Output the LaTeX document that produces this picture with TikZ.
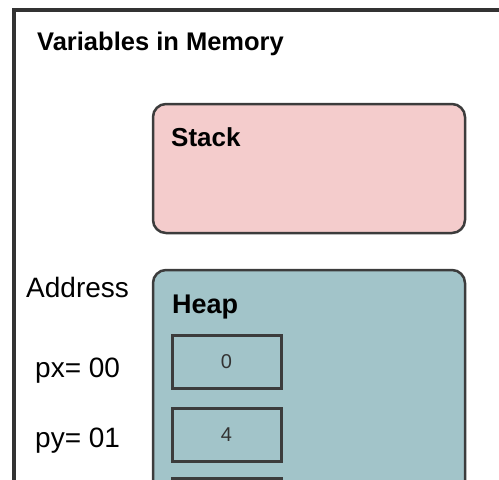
\documentclass[tikz,border=0pt]{standalone}
\usepackage{fontspec}
\setmainfont{Liberation Sans}
\definecolor{stackfill}{HTML}{F4CCCC}
\definecolor{heapfill}{HTML}{A2C4C9}
\definecolor{edge}{HTML}{3C3C3C}
\definecolor{framec}{HTML}{333333}
\tikzset{
  region/.style={draw=edge, line width=2.5pt, rounded corners=13pt, minimum width=312pt, inner sep=0pt},
  cell/.style={draw=edge, line width=3pt, minimum width=109pt, minimum height=53pt, inner sep=0pt, font=\fontsize{20}{24}\selectfont, text=black!80},
  lbl/.style={anchor=base west, inner sep=0pt, text=black},
}
\begin{document}
\begin{tikzpicture}[x=1pt,y=-1pt]
\useasboundingbox (0,0) rectangle (499,480);
\clip (0,0) rectangle (499,480);
% frame
\coordinate (fbl) at (14,520);
\coordinate (ftl) at (14,10);
\coordinate (ftr) at (540,10);
\draw[framec, line width=4pt] (fbl) -- (ftl) -- (ftr);
% title
\node[lbl, font=\bfseries\fontsize{25.5}{30}\selectfont] (title) at (37,50) {Variables in Memory};
% stack
\node[region, fill=stackfill, minimum height=129pt] (stack) at (309,168.5) {};
\node[lbl, font=\bfseries\fontsize{26}{30}\selectfont] (stacklbl) at (171,146) {Stack};
% heap
\node[region, fill=heapfill, minimum height=250pt] (heap) at (309,395) {};
\node[lbl, font=\bfseries\fontsize{27}{30}\selectfont] (heaplbl) at (172,313) {Heap};
% cells
\node[cell] (c0) at (226.5,361.5) {0};
\node[cell] (c1) at (226.5,435) {4};
\node[cell] (c2) at (226.5,504.5) {};
% addresses
\node[lbl, font=\fontsize{28}{32}\selectfont] (addr) at (26,297) {Address};
\node[lbl, font=\fontsize{28}{32}\selectfont] (px) at (35,377) {px= 00};
\node[lbl, font=\fontsize{28}{32}\selectfont] (py) at (35,447) {py= 01};
\end{tikzpicture}
\end{document}
